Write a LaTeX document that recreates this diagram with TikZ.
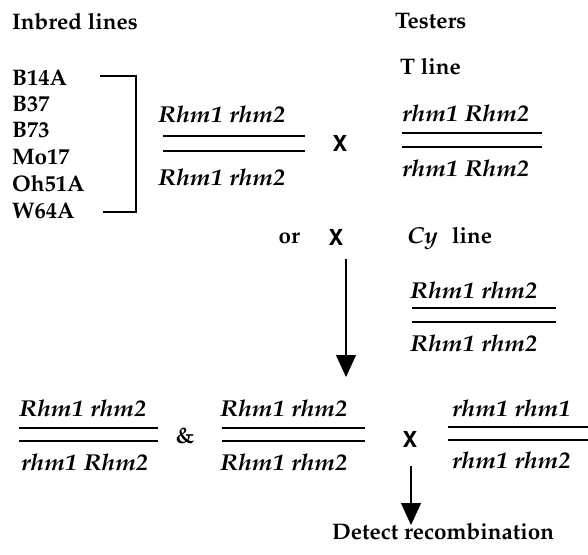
\documentclass[tikz,border=0pt]{standalone}
\usepackage[T1]{fontenc}
\usepackage{mathpazo}
\usepackage{graphicx}
\usetikzlibrary{arrows.meta}
\newcommand\gtxt[1]{\scalebox{1.08}[1]{#1}}
\tikzset{
  hd/.style={inner sep=0pt, font=\fontsize{22.5}{24}\selectfont\bfseries},
  gt/.style={inner sep=0pt, font=\fontsize{23}{25}\selectfont\bfseries\itshape},
  crossx/.style={inner sep=0pt, font=\fontsize{22}{24}\selectfont\fontfamily{phv}\selectfont\bfseries},
  chrom/.style={line width=1.7pt},
  brk/.style={line width=1.4pt},
  arr/.style={line width=1.3pt, -{Triangle[length=22pt,width=20pt]}}
}
\begin{document}
\begin{tikzpicture}[x=1pt,y=-1pt]
\useasboundingbox[fill=white] (0,0) rectangle (588,554);
% headings
\node[hd,anchor=base west] (inb) at (12,29) {Inbred lines};
\node[hd,anchor=base west] (tst) at (395,28) {Testers};
\node[hd,anchor=base west] (tln) at (400,74) {T line};
% inbred list
\node[hd,anchor=base west] (l1) at (12,85) {B14A};
\node[hd,anchor=base west] (l2) at (12,111) {B37};
\node[hd,anchor=base west] (l3) at (12,137) {B73};
\node[hd,anchor=base west] (l4) at (12,164) {Mo17};
\node[hd,anchor=base west] (l5) at (12,191) {Oh51A};
\node[hd,anchor=base west] (l6) at (12,218) {W64A};
\draw[brk] (100,76) -- (136,76) -- (136,212) -- (103,212);
% inbred genotype
\node[gt,anchor=base west] (g1a) at (158,122) {\gtxt{Rhm1 rhm2}};
\draw[chrom] (163,136) -- (305,136);
\draw[chrom] (163,151) -- (305,151);
\node[gt,anchor=base west] (g1b) at (158,185) {\gtxt{Rhm1 rhm2}};
\node[crossx] (x1) at (340,144) {X};
% T line genotype
\node[gt,anchor=base west] (g2a) at (402,121) {\gtxt{rhm1 Rhm2}};
\draw[chrom] (402,133) -- (542,133);
\draw[chrom] (402,147) -- (542,147);
\node[gt,anchor=base west] (g2b) at (402,176) {\gtxt{rhm1 Rhm2}};
% or X, Cy line
\node[hd,anchor=base east] (or) at (300,243) {or};
\node[crossx] (x2) at (336,238) {X};
\node[gt,anchor=base west] (cy) at (407,243) {\gtxt{Cy}};
\node[hd,anchor=base west] (cyl) at (452,243) {line};
\node[gt,anchor=base west] (g3a) at (410,298) {\gtxt{Rhm1 rhm2}};
\draw[chrom] (412,308) -- (556,308);
\draw[chrom] (412,322) -- (556,322);
\node[gt,anchor=base west] (g3b) at (410,351) {\gtxt{Rhm1 rhm2}};
\coordinate (a1s) at (346,259);
\coordinate (a1e) at (346,377);
\draw[arr] (a1s) -- (a1e);
% bottom row
\node[gt,anchor=base west] (b1a) at (19,416) {\gtxt{Rhm1 rhm2}};
\draw[chrom] (19,428) -- (158,428);
\draw[chrom] (19,441) -- (158,441);
\node[gt,anchor=base west] (b1b) at (21,470) {\gtxt{rhm1 Rhm2}};
\node[hd,anchor=base] (amp) at (185,443) {\&};
\node[gt,anchor=base west] (b2a) at (220,416) {\gtxt{Rhm1 rhm2}};
\draw[chrom] (222,428) -- (365,428);
\draw[chrom] (222,441) -- (365,441);
\node[gt,anchor=base west] (b2b) at (220,470) {\gtxt{Rhm1 rhm2}};
\node[crossx] (x3) at (410,440) {X};
\node[gt,anchor=base west] (b3a) at (452,416) {\gtxt{rhm1 rhm1}};
\draw[chrom] (448,427) -- (588,427);
\draw[chrom] (448,440) -- (588,440);
\node[gt,anchor=base west] (b3b) at (452,468) {\gtxt{rhm1 rhm2}};
\coordinate (a2s) at (411,466);
\coordinate (a2e) at (411,525);
\draw[arr] (a2s) -- (a2e);
\node[hd,anchor=base west] (det) at (332,539) {Detect recombination};
\end{tikzpicture}
\end{document}
